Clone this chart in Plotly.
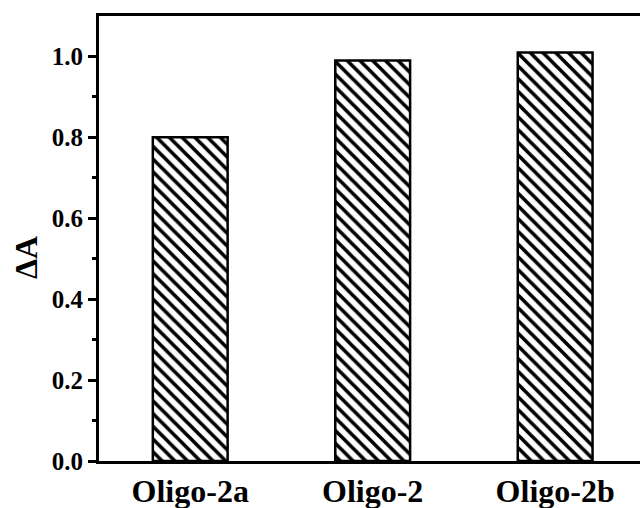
import plotly.graph_objects as go

# Absorbance change for each oligonucleotide
categories = ["Oligo-2a", "Oligo-2", "Oligo-2b"]
delta_a = [0.80, 0.99, 1.01]

y_tick_vals = [0.0, 0.2, 0.4, 0.6, 0.8, 1.0]
y_tick_text = ["0.0", "0.2", "0.4", "0.6", "0.8", "1.0"]

FONT = "Liberation Serif"

fig = go.Figure()
fig.add_trace(go.Bar(
    x=list(range(len(categories))),
    y=delta_a,
    width=0.41,
    marker=dict(
        color="white",
        line=dict(color="black", width=2.5),
        pattern=dict(shape="\\", fgcolor="black", bgcolor="white",
                     size=9, solidity=0.4, fillmode="replace"),
    ),
    hoverinfo="skip",
))

fig.update_layout(
    width=640, height=508,
    margin=dict(l=99, r=0, t=16, b=47),
    plot_bgcolor="white", paper_bgcolor="white",
    showlegend=False,
    font=dict(family=FONT, color="black"),
)

fig.update_xaxes(
    range=[-0.5, 2.465],
    tickmode="array",
    tickvals=list(range(len(categories))),
    ticktext=[f"<b>{c}</b>" for c in categories],
    tickfont=dict(family=FONT, size=32, color="black"),
    ticks="",
    showline=True, linecolor="black", linewidth=3,
    mirror=True,
    showgrid=False, zeroline=False,
)

fig.update_yaxes(
    range=[0, 1.1],
    tickmode="array",
    tickvals=y_tick_vals,
    ticktext=[f"<b>{t}</b>" for t in y_tick_text],
    tickfont=dict(family=FONT, size=25, color="black"),
    ticks="outside", ticklen=8, tickwidth=3, tickcolor="black",
    minor=dict(tickmode="array", tickvals=[0.1, 0.3, 0.5, 0.7, 0.9],
               ticks="outside", ticklen=4, tickwidth=3, tickcolor="black"),
    showline=True, linecolor="black", linewidth=3,
    showgrid=False, zeroline=False,
)

fig.add_annotation(
    text="<b>ΔA</b>",
    xref="paper", yref="paper",
    x=0, y=(461 - 258) / 445,
    xshift=-73,
    textangle=-90,
    showarrow=False,
    font=dict(family=FONT, size=32, color="black"),
    xanchor="center", yanchor="middle",
)

fig.write_html("out.html")
